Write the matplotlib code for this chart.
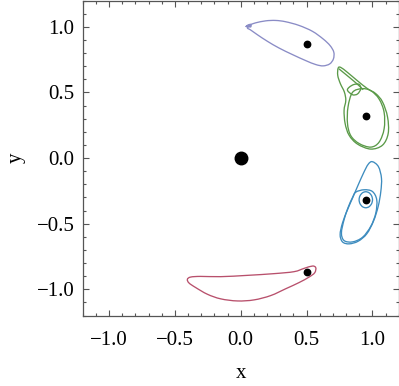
import matplotlib
matplotlib.use("Agg")
import matplotlib.pyplot as plt
from matplotlib.ticker import MultipleLocator
from matplotlib.path import Path
from matplotlib.patches import PathPatch

# ---- data ----
purple_x = [0.038, 0.058, 0.084, 0.114, 0.190, 0.266, 0.342, 0.443, 0.545, 0.626, 0.679, 0.707,
            0.704, 0.676, 0.626, 0.570, 0.494, 0.393, 0.291, 0.203, 0.127, 0.076, 0.051,
            0.063, 0.079, 0.073, 0.048]
purple_y = [1.000, 1.015, 1.020, 1.030, 1.045, 1.048, 1.038, 1.010, 0.965, 0.907, 0.856, 0.806,
            0.755, 0.717, 0.702, 0.712, 0.742, 0.788, 0.838, 0.889, 0.939, 0.975, 0.990,
            1.006, 1.010, 0.998, 1.003]

green_outer_x = [0.740, 0.737, 0.757, 0.787, 0.798, 0.785, 0.793, 0.823, 0.887, 0.988, 1.077, 1.120,
                 1.115, 1.077, 1.026, 0.963, 0.887, 0.811, 0.760]
green_outer_y = [0.685, 0.629, 0.566, 0.503, 0.439, 0.364, 0.263, 0.174, 0.106, 0.068, 0.098, 0.187,
                 0.313, 0.427, 0.490, 0.528, 0.588, 0.652, 0.690]
green_lobe_x = [0.745, 0.800, 0.860, 0.905, 0.930]
green_lobe_y = [0.680, 0.635, 0.585, 0.545, 0.520]
green_small_x = [0.811, 0.849, 0.887, 0.912, 0.899, 0.860, 0.825]
green_small_y = [0.515, 0.482, 0.488, 0.528, 0.561, 0.560, 0.540]
green_inner_x = [0.849, 0.920, 0.988, 1.051, 1.089, 1.089, 1.051, 0.988, 0.900, 0.836, 0.811, 0.815]
green_inner_y = [0.500, 0.528, 0.513, 0.449, 0.348, 0.222, 0.121, 0.083, 0.110, 0.170, 0.263, 0.389]

blue_outer_x = [1.000, 1.046, 1.069, 1.064, 1.044, 1.008, 0.957, 0.892, 0.823, 0.773, 0.755, 0.773,
                0.811, 0.849, 0.887, 0.932, 0.968]
blue_outer_y = [-0.028, -0.066, -0.154, -0.255, -0.369, -0.482, -0.578, -0.634, -0.654, -0.639,
                -0.583, -0.495, -0.394, -0.306, -0.217, -0.116, -0.048]
blue_mid_x = [0.874, 0.937, 1.000, 1.033, 1.026, 0.988, 0.925, 0.849, 0.785, 0.765, 0.785, 0.816,
              0.849]
blue_mid_y = [-0.260, -0.242, -0.255, -0.318, -0.419, -0.520, -0.604, -0.639, -0.629, -0.571,
              -0.470, -0.376, -0.301]
blue_small_x = [0.899, 0.906, 0.925, 0.950, 0.975, 0.994, 1.001, 0.994, 0.975, 0.950, 0.925, 0.906]
blue_small_y = [-0.318, -0.288, -0.265, -0.257, -0.265, -0.288, -0.318, -0.348, -0.371, -0.379,
                -0.371, -0.348]

red_x = [-0.405, -0.380, -0.304, -0.152, 0.051, 0.253, 0.405, 0.481, 0.545, 0.570, 0.562, 0.519,
         0.443, 0.342, 0.228, 0.101, -0.025, -0.152, -0.253, -0.342, -0.393]
red_y = [-0.924, -0.907, -0.902, -0.904, -0.894, -0.881, -0.866, -0.841, -0.823, -0.836, -0.874,
         -0.907, -0.949, -0.996, -1.048, -1.081, -1.089, -1.073, -1.038, -0.987, -0.952]

body_x = [0.0]
body_y = [0.0]
small_x = [0.5, 0.951, 0.951, 0.5]
small_y = [0.866, 0.318, -0.318, -0.866]

ticks = [-1.0, -0.5, 0.0, 0.5, 1.0]
tick_labels = ["\u22121.0", "\u22120.5", "0.0", "0.5", "1.0"]


def smooth_path(xs, ys, closed=True):
    """Smooth curve through the read points (Catmull-Rom drawn as Bezier segments)."""
    pts = list(zip(xs, ys))
    n = len(pts)
    verts = [pts[0]]
    codes = [Path.MOVETO]
    segs = n if closed else n - 1
    for i in range(segs):
        if closed:
            p0 = pts[(i - 1) % n]; p1 = pts[i]; p2 = pts[(i + 1) % n]; p3 = pts[(i + 2) % n]
        else:
            p0 = pts[max(i - 1, 0)]; p1 = pts[i]; p2 = pts[i + 1]; p3 = pts[min(i + 2, n - 1)]
        c1 = (p1[0] + (p2[0] - p0[0]) / 6.0, p1[1] + (p2[1] - p0[1]) / 6.0)
        c2 = (p2[0] - (p3[0] - p1[0]) / 6.0, p2[1] - (p3[1] - p1[1]) / 6.0)
        verts += [c1, c2, p2]
        codes += [Path.CURVE4] * 3
    return Path(verts, codes)


# ---- figure ----
plt.rcParams['font.family'] = ['Liberation Serif', 'DejaVu Serif']
fig = plt.figure(figsize=(3.99, 3.86), dpi=100)
ax = fig.add_axes([0.2073, 0.1826, 0.7920, 0.8161])

lw = 0.95
curves = [
    (purple_x, purple_y, '#8a8cc6', True),
    (green_outer_x, green_outer_y, '#5a9a48', True),
    (green_lobe_x, green_lobe_y, '#5a9a48', False),
    (green_small_x, green_small_y, '#5a9a48', True),
    (green_inner_x, green_inner_y, '#5a9a48', True),
    (blue_outer_x, blue_outer_y, '#3d8cbf', True),
    (blue_mid_x, blue_mid_y, '#3d8cbf', True),
    (blue_small_x, blue_small_y, '#3d8cbf', True),
    (red_x, red_y, '#b8506c', True),
]
for xs, ys, c, closed in curves:
    ax.add_patch(PathPatch(smooth_path(xs, ys, closed), fill=False, edgecolor=c, lw=lw))

ax.plot(body_x, body_y, 'o', color='black', ms=9)
ax.plot(small_x, small_y, 'o', color='black', ms=4.6)

ax.set_xlim(-1.2, 1.2)
ax.set_ylim(-1.2, 1.2)
ax.set_xticks(ticks)
ax.set_xticklabels(tick_labels)
ax.set_yticks(ticks)
ax.set_yticklabels(tick_labels)
ax.xaxis.set_minor_locator(MultipleLocator(0.1))
ax.yaxis.set_minor_locator(MultipleLocator(0.1))
ax.tick_params(which='both', direction='in', top=True, right=True, colors='#555555',
               labelcolor='black', labelsize=15, width=0.8)
ax.tick_params(which='major', length=4.0)
ax.tick_params(axis='x', which='major', pad=11)
ax.tick_params(axis='y', which='major', pad=6)
ax.tick_params(which='minor', length=2.2)
for s in ax.spines.values():
    s.set_color('#555555')
    s.set_linewidth(0.9)

ax.set_xlabel('x', fontsize=15, labelpad=10)
ax.set_ylabel('y', fontsize=15, labelpad=8)

fig.savefig('out.png', dpi=100)
